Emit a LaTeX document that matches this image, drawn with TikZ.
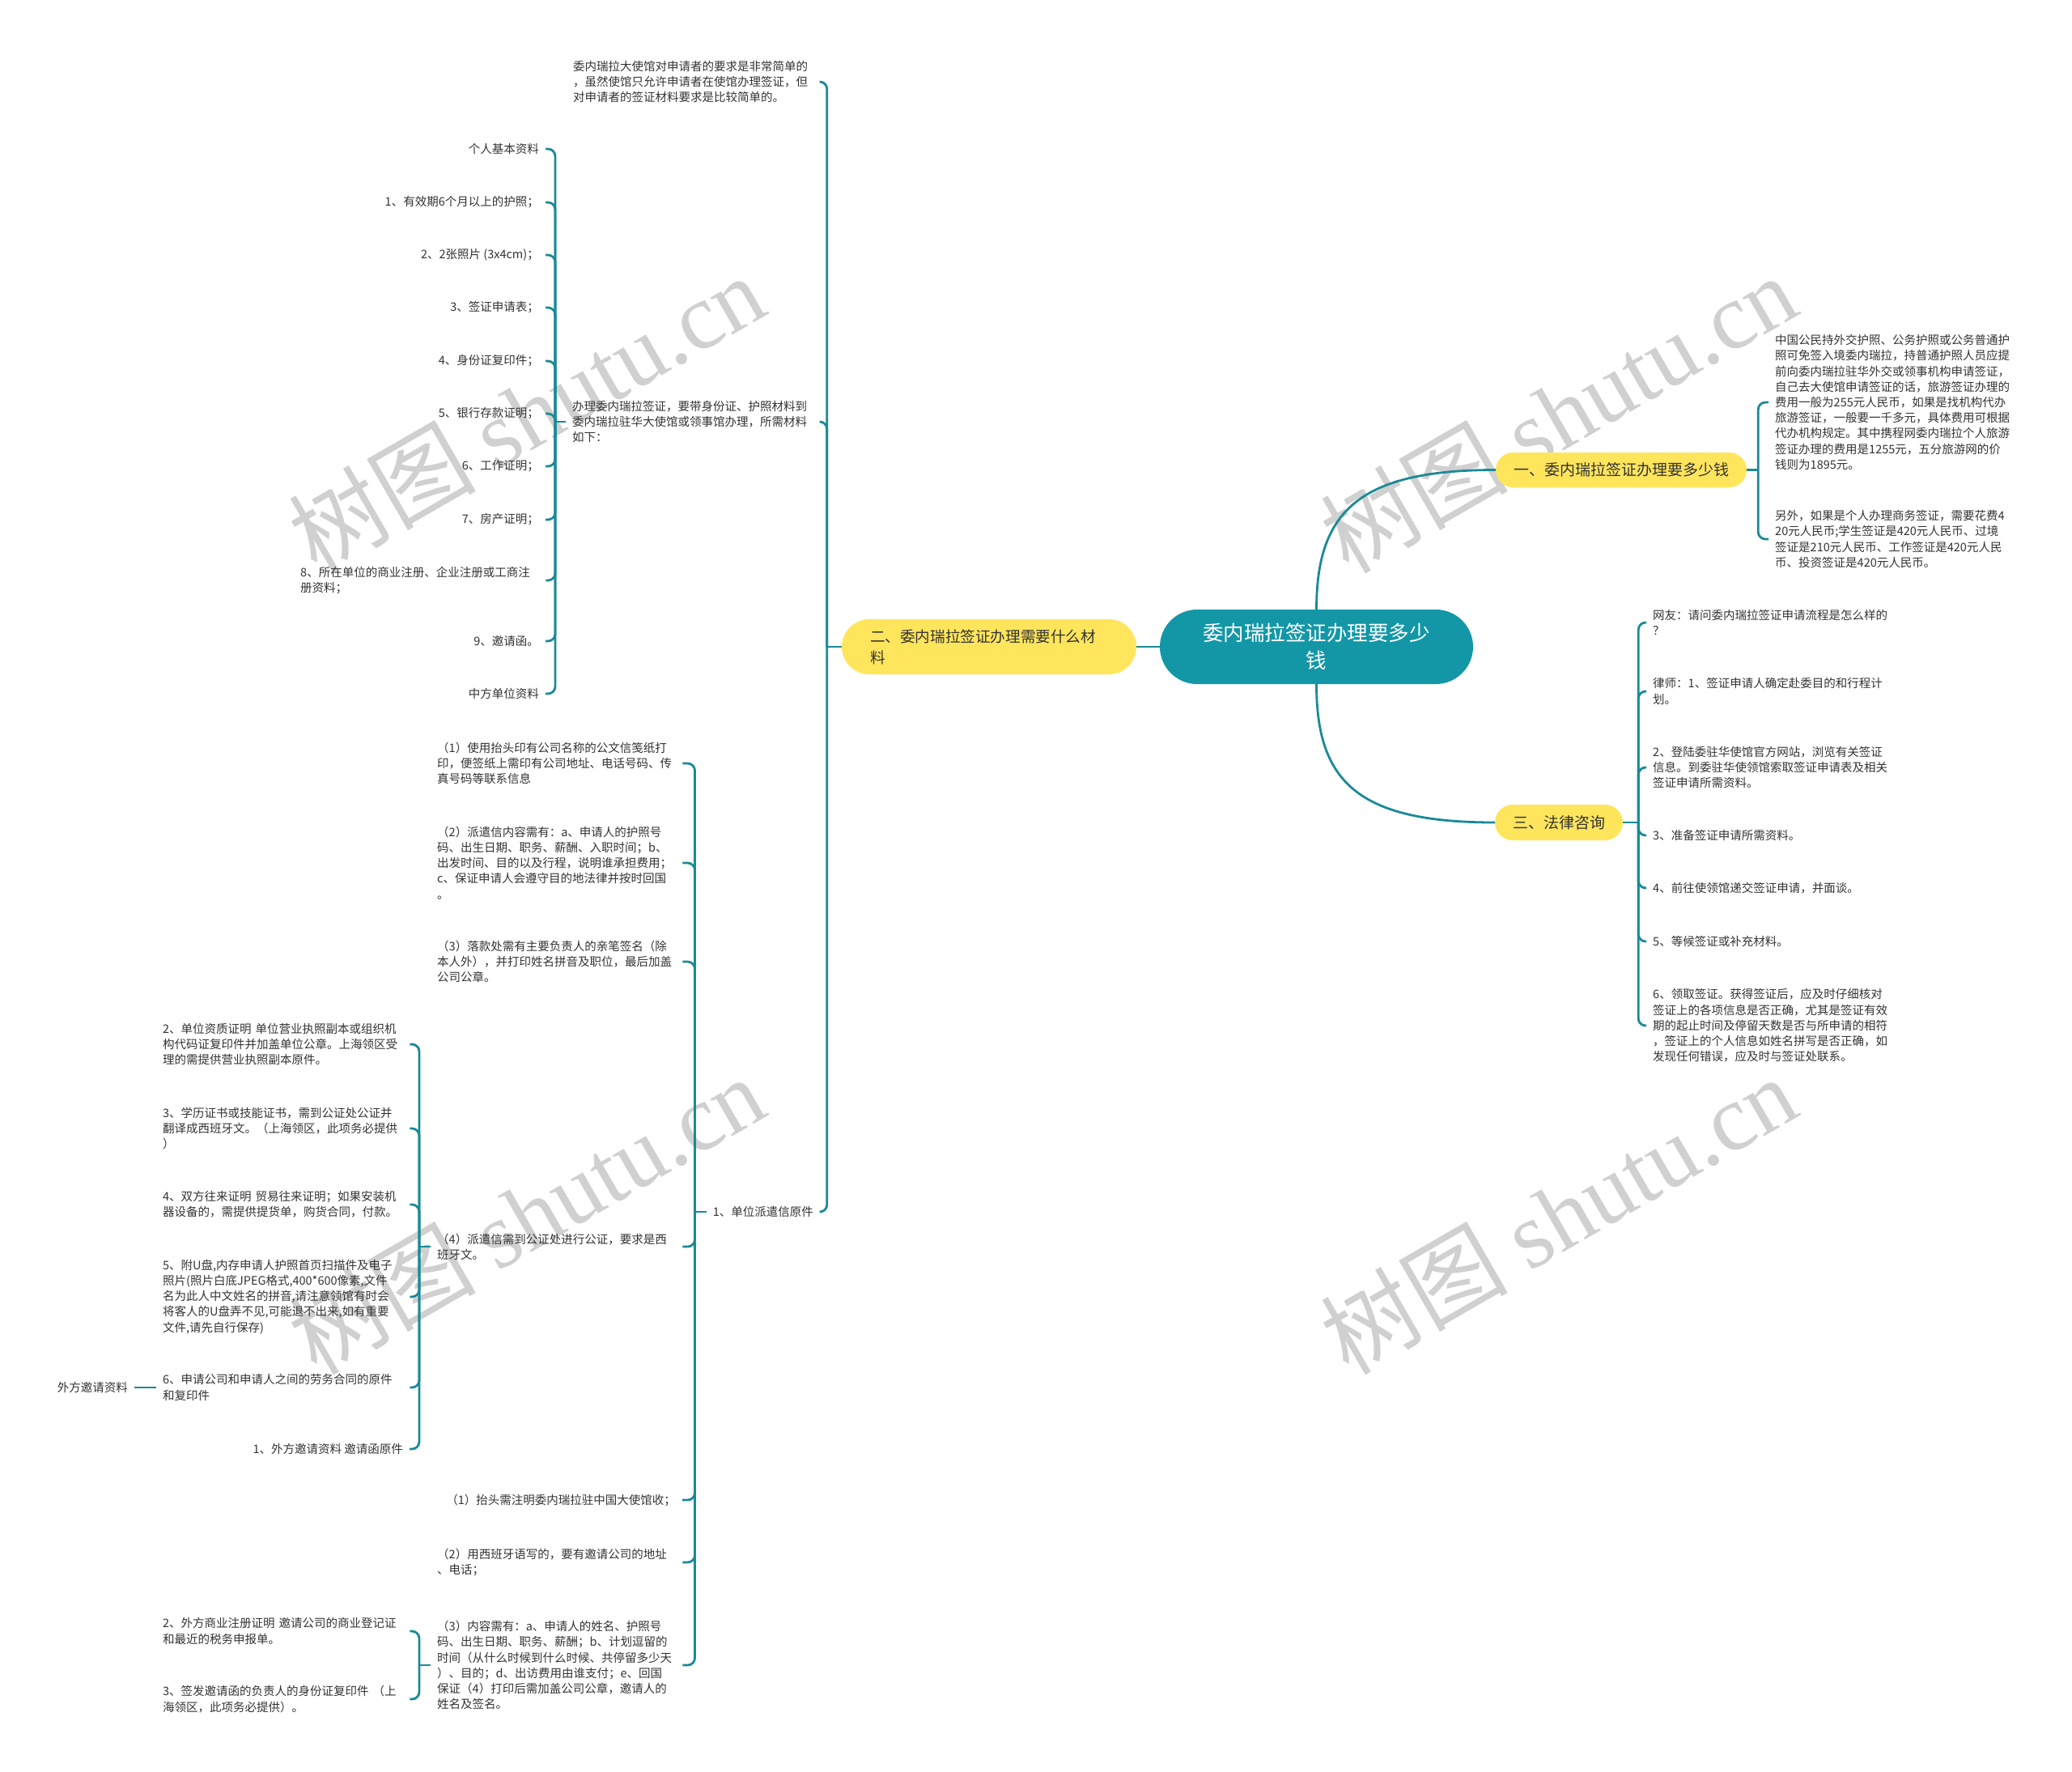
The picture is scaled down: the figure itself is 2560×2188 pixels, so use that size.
\documentclass[tikz,border=0pt]{standalone}
\usepackage{fontspec}
\setmainfont{Noto Sans CJK SC}
\newfontfamily\wmfont{Liberation Serif}
\definecolor{tealc}{RGB}{19,151,167}
\definecolor{linec}{RGB}{26,138,150}
\definecolor{yel}{RGB}{255,229,92}
\definecolor{txt}{RGB}{51,51,51}
\definecolor{wmc}{RGB}{208,208,208}
\tikzset{
  leaf/.style={inner xsep=8pt, inner ysep=2pt, text=txt, font=\fontsize{14.5}{19.2}\selectfont},
  para/.style={leaf, text width=#1, align=left},
  conn/.style={draw=linec, line width=2.8pt},
  hook/.style={conn, rounded corners=9pt},
  ybox/.style={fill=yel, text=txt},
  wmark/.style={rotate=30, text=wmc, inner sep=0pt, font=\fontsize{116}{116}\selectfont}
}
\begin{document}
\begin{tikzpicture}[x=1pt,y=-1pt]
\useasboundingbox (0,0) rectangle (2560,2188);
\fill[white] (0,0) rectangle (2560,2188);
% watermarks
\foreach \i/\px/\py in {1/650/510, 2/650/1500, 3/1925/510, 4/1925/1500}{
  \node[wmark] (wm\i) at (\px,\py) {树图~{\wmfont shutu.cn}};
}
% main nodes
\node[fill=tealc, text=white, minimum width=387pt, minimum height=92pt, rounded corners=46pt, align=center, font=\fontsize{25.5}{34}\selectfont] (c) at (1626.5,799) {委内瑞拉签证办理要多少\\钱};
\node[ybox, minimum width=364pt, minimum height=68pt, rounded corners=34pt, text width=294pt, inner xsep=35pt, align=left, font=\fontsize{18.6}{26}\selectfont] (n2) at (1222,799) {二、委内瑞拉签证办理需要什么材\\料};
\node[ybox, minimum width=310pt, minimum height=43pt, rounded corners=21.5pt, font=\fontsize{19}{24}\selectfont] (n1) at (2003,580.5) {一、委内瑞拉签证办理要多少钱};
\node[ybox, minimum width=158pt, minimum height=44pt, rounded corners=22pt, font=\fontsize{19}{24}\selectfont] (n3) at (1926,1016) {三、法律咨询};

\draw[conn] (c.west) -- (n2.east);
\draw[conn] (c.north) .. controls +(0,-120) and +(-170,0) .. (n1.west);
\draw[conn] (c.south) .. controls +(0,120) and +(-170,0) .. (n3.west);

% level A (left of n2)
\node[para=297pt, anchor=west] (a1) at (700,101) {委内瑞拉大使馆对申请者的要求是非常简单的\\，虽然使馆只允许申请者在使馆办理签证，但\\对申请者的签证材料要求是比较简单的。};
\node[para=298pt, anchor=west] (a2) at (699,521) {办理委内瑞拉签证，要带身份证、护照材料到\\委内瑞拉驻华大使馆或领事馆办理，所需材料\\如下：};
\node[leaf, anchor=east] (a3) at (1013,1497) {1、单位派遣信原件};
\draw[conn] (n2.west) -- ++(-18,0) coordinate (jA);
\foreach \n in {a1,a2,a3} \draw[hook] (jA) |- (\n.east);

% level B (left of a2)
\node[leaf, anchor=east] (b1) at (674,184) {个人基本资料};
\node[leaf, anchor=east] (b2) at (674,250) {1、有效期6个月以上的护照；};
\node[leaf, anchor=east] (b3) at (674,315) {2、2张照片 (3x4cm)；};
\node[leaf, anchor=east] (b4) at (674,380) {3、签证申请表；};
\node[leaf, anchor=east] (b5) at (674,446) {4、身份证复印件；};
\node[leaf, anchor=east] (b6) at (674,511) {5、银行存款证明；};
\node[leaf, anchor=east] (b7) at (674,576) {6、工作证明；};
\node[leaf, anchor=east] (b8) at (674,642) {7、房产证明；};
\node[para=295pt, anchor=west] (b9) at (363,717) {8、所在单位的商业注册、企业注册或工商注\\册资料；};
\node[leaf, anchor=east] (b10) at (674,792) {9、邀请函。};
\node[leaf, anchor=east] (b11) at (674,857) {中方单位资料};
\draw[conn] (a2.west) -- ++(-13,0) coordinate (jB);
\foreach \n in {b1,b2,b3,b4,b5,b6,b7,b8,b9,b10,b11} \draw[hook] (jB) |- (\n.east);

% level C (left of a3)
\node[para=295pt, anchor=west] (c1) at (532,943) {（1）使用抬头印有公司名称的公文信笺纸打\\印，便签纸上需印有公司地址、电话号码、传\\真号码等联系信息};
\node[para=295pt, anchor=west] (c2) at (532,1066) {（2）派遣信内容需有：a、申请人的护照号\\码、出生日期、职务、薪酬、入职时间；b、\\出发时间、目的以及行程，说明谁承担费用；\\c、保证申请人会遵守目的地法律并按时回国\\。};
\node[para=295pt, anchor=west] (c3) at (532,1188) {（3）落款处需有主要负责人的亲笔签名（除\\本人外），并打印姓名拼音及职位，最后加盖\\公司公章。};
\node[para=295pt, anchor=west] (c4) at (532,1540) {（4）派遣信需到公证处进行公证，要求是西\\班牙文。};
\node[leaf, anchor=east] (c5) at (843,1853) {（1）抬头需注明委内瑞拉驻中国大使馆收；};
\node[para=295pt, anchor=west] (c6) at (532,1930) {（2）用西班牙语写的，要有邀请公司的地址\\、电话；};
\node[para=295pt, anchor=west] (c7) at (532,2057) {（3）内容需有：a、申请人的姓名、护照号\\码、出生日期、职务、薪酬；b、计划逗留的\\时间（从什么时候到什么时候、共停留多少天\\）、目的；d、出访费用由谁支付；e、回国\\保证（4）打印后需加盖公司公章，邀请人的\\姓名及签名。};
\draw[conn] (a3.west) -- ++(-14,0) coordinate (jC);
\foreach \n in {c1,c2,c3,c4,c5,c6,c7} \draw[hook] (jC) |- (\n.east);

% level D (left of c4)
\node[para=297pt, anchor=west] (d1) at (193,1290) {2、单位资质证明~单位营业执照副本或组织机\\构代码证复印件并加盖单位公章。上海领区受\\理的需提供营业执照副本原件。};
\node[para=297pt, anchor=west] (d2) at (193,1394) {3、学历证书或技能证书，需到公证处公证并\\翻译成西班牙文。（上海领区，此项务必提供\\）};
\node[para=297pt, anchor=west] (d3) at (193,1488) {4、双方往来证明~贸易往来证明；如果安装机\\器设备的，需提供提货单，购货合同，付款。};
\node[para=297pt, anchor=west] (d4) at (193,1602) {5、附U盘,内存申请人护照首页扫描件及电子\\照片(照片白底JPEG格式,400*600像素,文件\\名为此人中文姓名的拼音,请注意领馆有时会\\将客人的U盘弄不见,可能退不出来,如有重要\\文件,请先自行保存)};
\node[para=297pt, anchor=west] (d5) at (193,1714) {6、申请公司和申请人之间的劳务合同的原件\\和复印件};
\node[leaf, anchor=east] (d6) at (506,1790) {1、外方邀请资料~邀请函原件};
\draw[conn] (c4.west) -- ++(-14,0) coordinate (jD);
\foreach \n in {d1,d2,d3,d4,d5,d6} \draw[hook] (jD) |- (\n.east);
\node[leaf, anchor=east] (wf) at (166,1714) {外方邀请资料};
\draw[conn] (wf.east) -- (d5.west);

% level E (left of c7)
\node[para=297pt, anchor=west] (e1) at (193,2015) {2、外方商业注册证明~邀请公司的商业登记证\\和最近的税务申报单。};
\node[para=297pt, anchor=west] (e2) at (193,2099) {3、签发邀请函的负责人的身份证复印件~（上\\海领区，此项务必提供）。};
\draw[conn] (c7.west) -- ++(-14,0) coordinate (jE);
\foreach \n in {e1,e2} \draw[hook] (jE) |- (\n.east);

% right branch 1
\node[para=320pt, anchor=west] (r1) at (2185,497) {中国公民持外交护照、公务护照或公务普通护\\照可免签入境委内瑞拉，持普通护照人员应提\\前向委内瑞拉驻华外交或领事机构申请签证，\\自己去大使馆申请签证的话，旅游签证办理的\\费用一般为255元人民币，如果是找机构代办\\旅游签证，一般要一千多元，具体费用可根据\\代办机构规定。其中携程网委内瑞拉个人旅游\\签证办理的费用是1255元，五分旅游网的价\\钱则为1895元。};
\node[para=320pt, anchor=west] (r2) at (2185,666) {另外，如果是个人办理商务签证，需要花费4\\20元人民币;学生签证是420元人民币、过境\\签证是210元人民币、工作签证是420元人民\\币、投资签证是420元人民币。};
\draw[conn] (n1.east) -- ++(14,0) coordinate (jR);
\foreach \n in {r1,r2} \draw[hook] (jR) |- (\n.west);

% right branch 3
\node[para=320pt, anchor=west] (s1) at (2034,769) {网友：请问委内瑞拉签证申请流程是怎么样的\\？};
\node[para=320pt, anchor=west] (s2) at (2034,854) {律师：1、签证申请人确定赴委目的和行程计\\划。};
\node[para=320pt, anchor=west] (s3) at (2034,948) {2、登陆委驻华使馆官方网站，浏览有关签证\\信息。到委驻华使领馆索取签证申请表及相关\\签证申请所需资料。};
\node[para=320pt, anchor=west] (s4) at (2034,1032) {3、准备签证申请所需资料。};
\node[para=320pt, anchor=west] (s5) at (2034,1097) {4、前往使领馆递交签证申请，并面谈。};
\node[para=320pt, anchor=west] (s6) at (2034,1163) {5、等候签证或补充材料。};
\node[para=320pt, anchor=west] (s7) at (2034,1267) {6、领取签证。获得签证后，应及时仔细核对\\签证上的各项信息是否正确，尤其是签证有效\\期的起止时间及停留天数是否与所申请的相符\\，签证上的个人信息如姓名拼写是否正确，如\\发现任何错误，应及时与签证处联系。};
\draw[conn] (n3.east) -- ++(19,0) coordinate (jS);
\foreach \n in {s1,s2,s3,s4,s5,s6,s7} \draw[hook] (jS) |- (\n.west);
\end{tikzpicture}
\end{document}
